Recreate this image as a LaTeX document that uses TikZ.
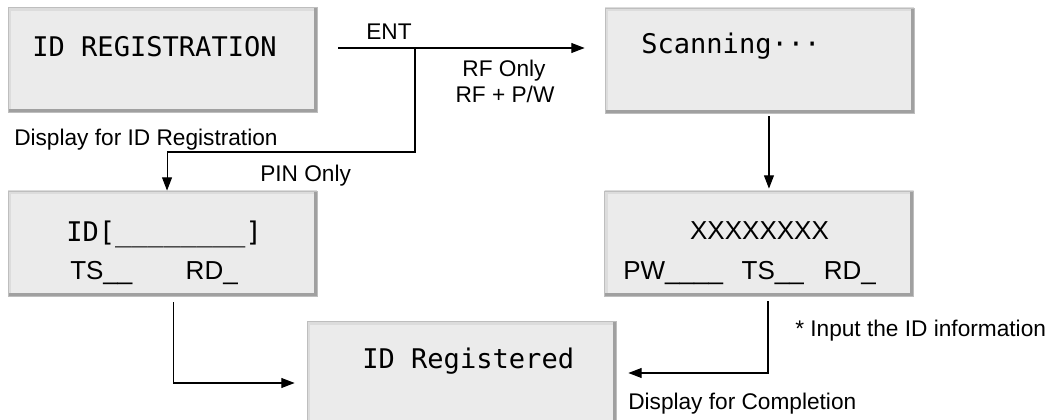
\documentclass[tikz,border=0pt]{standalone}
\usepackage{fontspec}
\setmainfont{Liberation Sans}
\newfontfamily\lcdfont{DejaVu Sans Mono}
\usetikzlibrary{arrows.meta}
\definecolor{lcdfill}{RGB}{235,235,235}
\definecolor{lcdedge}{RGB}{190,190,190}
\definecolor{lcddark}{RGB}{160,160,160}
\definecolor{lcdlight}{RGB}{220,220,220}
\tikzset{lcd/.style={draw=lcdedge, fill=lcdfill, line width=0.6pt, inner sep=0pt,
    minimum width=231.75pt, minimum height=78.75pt,
    path picture={
      \draw[lcdlight, line width=5pt] (path picture bounding box.south west) -- (path picture bounding box.north west) -- (path picture bounding box.north east);
      \draw[lcddark, line width=5pt] (path picture bounding box.north east) -- (path picture bounding box.south east) -- (path picture bounding box.south west);}}}
\tikzset{lcdmono/.style={font=\lcdfont\fontsize{20.3pt}{24pt}\selectfont, inner sep=0pt}}
\tikzset{lcdsans/.style={font=\fontsize{19.5pt}{23pt}\selectfont, inner sep=0pt}}
\tikzset{lbl/.style={font=\fontsize{17pt}{20pt}\selectfont, inner sep=0pt}}
\tikzset{flow/.style={line width=0.8pt, -{Triangle[length=10pt,width=7.5pt]}}}

\begin{document}
\begin{tikzpicture}[x=0.75pt, y=-0.75pt]
    \useasboundingbox (0, 0) rectangle (1054, 420);
    \clip (0, 0) rectangle (1054, 420);
    % screens
    \node[lcd] (reg) at (162.5, 60) {};
    \node[lcd] (scan) at (759.5, 60.5) {};
    \node[lcd] (pin) at (162.5, 243.5) {};
    \node[lcd] (info) at (759, 243.5) {};
    \node[lcd] (done) at (461.5, 374) {};
    \node[lcdmono, anchor=base] (regtxt) at (154.5, 57) {ID REGISTRATION};
    \node[lcdmono, anchor=base west] (scantxt) at (641, 54) {Scanning···};
    \node[lcdmono, anchor=base west] (pintxt) at (66, 242) {ID[\_\_\_\_\_\_\_\_]};
    \node[lcdsans, anchor=base west] (pinsub) at (70, 280) {TS\_\_\hspace{40pt}RD\_};
    \node[lcdsans, anchor=base] (infotxt) at (759.5, 240) {XXXXXXXX};
    \node[lcdsans, anchor=base west] (infosub) at (623, 280) {PW\_\_\_\_\hspace{14pt}TS\_\_\hspace{15pt}RD\_};
    \node[lcdmono, anchor=base west] (donetxt) at (362, 369) {ID Registered};
    % labels
    \node[lbl, anchor=base west] (regcap) at (14, 146) {Display for ID Registration};
    \node[lbl, anchor=base] (ent) at (389, 40) {ENT};
    \node[lbl, anchor=base] (rfonly) at (504, 77) {RF Only};
    \node[lbl, anchor=base] (rfpw) at (505, 103) {RF + P/W};
    \node[lbl, anchor=base west] (pinonly) at (260, 182) {PIN Only};
    \node[lbl, anchor=base west] (inputcap) at (795, 337) {* Input the ID information};
    \node[lbl, anchor=base west] (donecap) at (628, 410) {Display for Completion};
    % connectors
    \coordinate (entstart) at ([xshift=15.75pt, yshift=9pt]reg.east);
    \coordinate (split) at (415, 48);
    \draw[flow, shorten >=15pt] (entstart) -- (entstart -| scan.west);
    \draw[flow] (split) -- ++(0, 104) -| ([xshift=3.4pt]pin.north);
    \draw[flow, shorten >=1.5pt] ([xshift=7.1pt, yshift=-2.25pt]scan.south) -- ([xshift=7.1pt]scan.south |- info.north);
    \draw[flow] ([xshift=7.9pt, yshift=-4.5pt]pin.south) |- ([xshift=-9pt, yshift=-6.75pt]done.west);
    \draw[flow] ([xshift=6.75pt, yshift=-3.75pt]info.south) |- ([xshift=9pt, yshift=0.75pt]done.east);
\end{tikzpicture}
\end{document}
